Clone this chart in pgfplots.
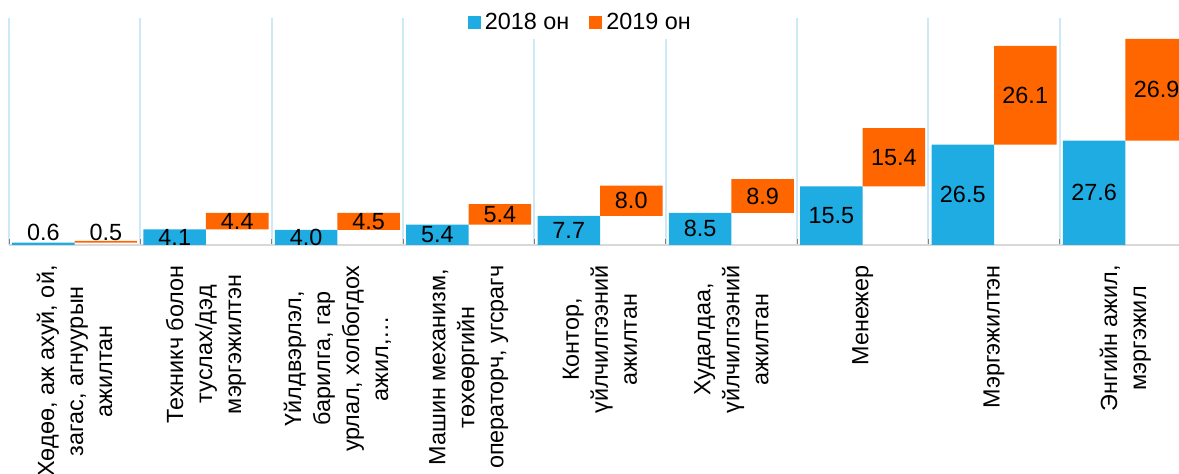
\documentclass[border=0pt]{standalone}
\usepackage{fontspec}
\setmainfont{Liberation Sans}
\usepackage{pgfplots}
\usepackage{pgfplotstable}
\pgfplotsset{compat=1.18}

\definecolor{c18}{HTML}{1FACE2}
\definecolor{c19}{HTML}{FF6600}
\definecolor{gridc}{RGB}{205,232,247}
\definecolor{axisc}{RGB}{217,217,217}

% a = 2018 он, b = 2019 он
\pgfplotstableread{
x a b
0 0.6 0.5
1 4.1 4.4
2 4.0 4.5
3 5.4 5.4
4 7.7 8.0
5 8.5 8.9
6 15.5 15.4
7 26.5 26.1
8 27.6 26.9
}\data

\begin{document}
\begin{tikzpicture}
\path[use as bounding box] (0,0) rectangle (589.5pt,237pt);
\begin{axis}[
    at={(4.5pt,114.5pt)}, anchor=south west,
    width=591pt, height=113.5pt, scale only axis,
    ybar stacked, bar width=31.25pt,
    xmin=-0.5, xmax=8.5, ymin=0, ymax=60,
    axis x line*=bottom, axis y line=none,
    x axis line style={draw=axisc, line width=1.2pt},
    ytick=\empty,
    xtick={0,...,8},
    major tick length=0pt,
    minor xtick={-0.5,0.5,...,8.5},
    xminorgrids,
    minor grid style={draw=gridc, line width=1pt},
    xticklabels={
      {Хөдөө, аж ахуй, ой,\\загас, агнуурын\\ажилтан},
      {Техникч болон\\туслах/дэд\\мэргэжилтэн},
      {Үйлдвэрлэл,\\барилга, гар\\урлал, холбогдох\\ажил,…},
      {Машин механизм,\\төхөөргийн\\операторч, угсрагч},
      {Контор,\\үйлчилгээний\\ажилтан},
      {Худалдаа,\\үйлчилгээний\\ажилтан},
      {Менежер},
      {Мэргэжилтэн},
      {Энгийн ажил,\\мэргэжил}},
    xticklabel style={rotate=90, anchor=east, align=center, inner sep=0pt,
      font=\fontsize{11.7}{14.5}\selectfont},
    xticklabel shift=10pt,
    nodes near coords,
    point meta=explicit,
    every node near coord/.append style={font=\fontsize{11.7}{14}\selectfont, inner sep=0pt},
    /pgf/number format/.cd, fixed, fixed zerofill, precision=1, assume math mode=true,
    /pgfplots/.cd,
    legend image code/.code={\fill[#1] (0pt,-3.25pt) rectangle (6.5pt,3.25pt);},
    legend columns=-1,
    legend style={at={(rel axis cs:0.4843,0.978)}, anchor=center, draw=none,
      fill=white, inner sep=1pt, font=\fontsize{11.7}{14}\selectfont,
      /tikz/every even column/.append style={column sep=8pt}},
  ]
  % stacked labels already sit mid-bar; only the very thin bars get theirs lifted
  \addplot[fill=c18, draw=none, bar shift=-15.625pt,
    visualization depends on={(\thisrow{a}<1)*(3.3-0.5*\thisrow{a}) \as \dy},
    every node near coord/.append style={anchor=center, shift={(axis direction cs:0,\dy)}}]
    table[x=x, y=a, meta=a] {\data};
  \addplot[fill=c19, draw=none, bar shift=15.625pt,
    visualization depends on={(\thisrow{a}+\thisrow{b}<2)*(3.3-\thisrow{a}-0.5*\thisrow{b}) \as \dy},
    every node near coord/.append style={anchor=center, shift={(axis direction cs:0,\dy)}}]
    table[x=x, y=b, meta=b] {\data};
  \legend{2018 он, 2019 он}
\end{axis}
\end{tikzpicture}
\end{document}
